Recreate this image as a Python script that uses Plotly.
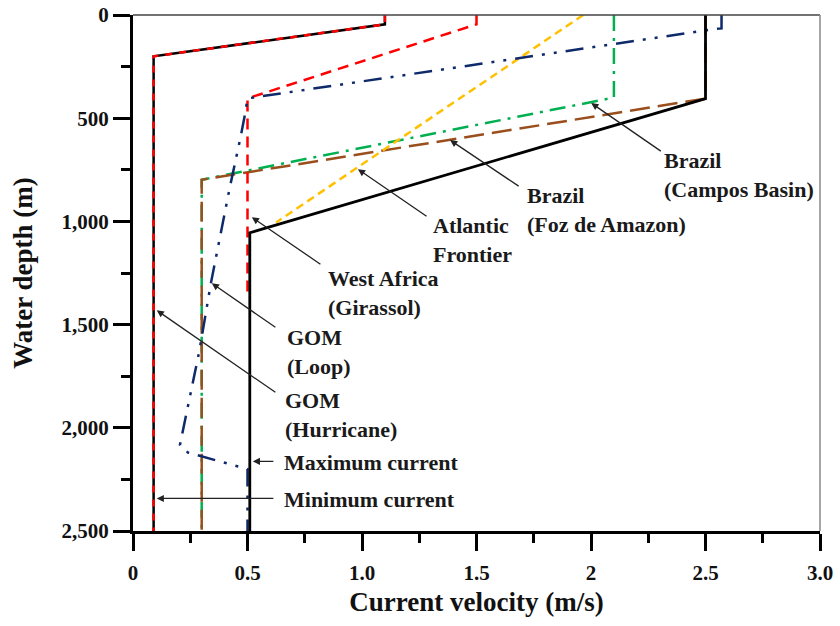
import plotly.graph_objects as go

# ---------------- data (velocity m/s, depth m) ----------------
min_x = [1.1, 1.1, 0.09, 0.09]
min_y = [0, 45, 200, 2500]

hurricane_x = [1.1, 1.1, 0.09, 0.09]
hurricane_y = [0, 45, 200, 2500]

max_x = [2.5, 2.5, 0.51, 0.51]
max_y = [0, 405, 1055, 2500]

girassol_x = [1.5, 1.5, 0.5, 0.5]
girassol_y = [0, 45, 404, 1350]

campos_x = [2.1, 2.1, 0.3, 0.3]
campos_y = [0, 400, 798, 2500]

foz_x = [2.5, 2.5, 0.3, 0.3]
foz_y = [0, 405, 798, 2500]

atlantic_x = [1.966, 0.625]
atlantic_y = [0, 1005]

loop_x = [2.57, 2.57, 2.54, 0.50, 0.49, 0.47, 0.42, 0.37, 0.34, 0.29, 0.25, 0.205, 0.24, 0.47, 0.5, 0.5]
loop_y = [0, 65, 68, 404, 476, 590, 850, 1125, 1300, 1626, 1835, 2083, 2120, 2189, 2200, 2500]

x_ticks = [0, 0.5, 1.0, 1.5, 2.0, 2.5, 3.0]
x_ticktext = ["0", "0.5", "1.0", "1.5", "2", "2.5", "3.0"]
y_ticks = [0, 500, 1000, 1500, 2000, 2500]
y_ticktext = ["0", "500", "1,000", "1,500", "2,000", "2,500"]

# ---------------- figure ----------------
FONT = "Liberation Serif"
fig = go.Figure()

def add(x, y, color, width, dash):
    fig.add_trace(go.Scatter(x=x, y=y, mode="lines",
                             line=dict(color=color, width=width, dash=dash),
                             showlegend=False, hoverinfo="skip"))

add(min_x, min_y, "black", 2.5, "solid")
add(hurricane_x, hurricane_y, "#FF0000", 2.5, "7px,7px")
add(campos_x, campos_y, "#00B050", 2.5, "16px,7px,3px,7px")
add(foz_x, foz_y, "#9A4E1C", 2.5, "20px,8px")
add(atlantic_x, atlantic_y, "#FFC000", 2.5, "8px,5px")
add(girassol_x, girassol_y, "#FF0000", 2.5, "11px,7px")
add(loop_x, loop_y, "#0E2A6B", 2.5, "18px,9px,3px,9px,3px,9px")
add(max_x, max_y, "black", 2.8, "solid")

# pixel -> data helper for label placement
X0, X1, Y0, Y1 = 133.3, 819.5, 15.0, 530.5
def d(px, py):
    return ((px - X0) / (X1 - X0) * 3.0, (py - Y0) / (Y1 - Y0) * 2500)

labels = [
    ("Brazil<br>(Campos Basin)", (662, 175), (662, 152), (591, 103)),
    ("Brazil<br>(Foz de Amazon)", (525, 210), (520, 187), (450, 140)),
    ("Atlantic<br>Frontier", (431, 240), (428, 217), (358, 169)),
    ("West Africa<br>(Girassol)", (326, 293), (322, 265), (252, 217)),
    ("GOM<br>(Loop)", (285, 352), (277, 328), (212, 283)),
    ("GOM<br>(Hurricane)", (283, 415), (277, 393), (157, 310)),
    ("Maximum current", (282, 462), (275, 461), (253, 461)),
    ("Minimum current", (282, 499), (275, 498), (157, 498)),
]
for text, tpos, tail, tip in labels:
    tx, ty = d(*tpos)
    fig.add_annotation(x=tx, y=ty, xref="x", yref="y", text=text, showarrow=False,
                       xanchor="left", yanchor="middle", align="left",
                       font=dict(family=FONT, size=22, color="#1a1a1a", weight="bold"))
    ax, ay = d(*tail)
    hx, hy = d(*tip)
    fig.add_annotation(x=hx, y=hy, ax=ax, ay=ay, xref="x", yref="y", axref="x", ayref="y",
                       text="", showarrow=True, arrowhead=2, arrowsize=1.1,
                       arrowwidth=1.3, arrowcolor="#222", standoff=0, startstandoff=0)

# top and right thin border
fig.add_shape(type="line", xref="paper", yref="paper", x0=0, x1=1, y0=1, y1=1,
              line=dict(color="#444", width=1.5))
fig.add_shape(type="line", xref="paper", yref="paper", x0=1, x1=1, y0=0, y1=1,
              line=dict(color="#888", width=1.5))

axis_common = dict(showgrid=False, zeroline=False, showline=True, linewidth=3,
                   linecolor="black", ticks="outside", ticklen=17, tickwidth=3,
                   tickcolor="black", automargin=False,
                   tickfont=dict(family=FONT, size=21, color="#111", weight="bold"))

fig.update_xaxes(range=[0, 3.0], tickvals=x_ticks, ticktext=x_ticktext,
                 minor=dict(ticks="outside", ticklen=9, tickwidth=3, dtick=0.25, tick0=0,
                            tickcolor="black"),
                 ticklabelstandoff=4,
                 title=dict(text="Current velocity (m/s)", standoff=8,
                            font=dict(family=FONT, size=27, color="#111", weight="bold")),
                 **axis_common)
fig.update_yaxes(range=[2500, 0], tickvals=y_ticks, ticktext=y_ticktext,
                 minor=dict(ticks="outside", ticklen=9, tickwidth=3, dtick=250, tick0=0,
                            tickcolor="black"),
                 ticklabelstandoff=0,
                 title=dict(text="Water depth (m)", standoff=22,
                            font=dict(family=FONT, size=27, color="#111", weight="bold")),
                 **axis_common)

fig.update_layout(width=840, height=626,
                  margin=dict(l=133, r=840 - 820, t=15, b=626 - 531, pad=0),
                  plot_bgcolor="white", paper_bgcolor="white")

fig.write_html("out.html")
